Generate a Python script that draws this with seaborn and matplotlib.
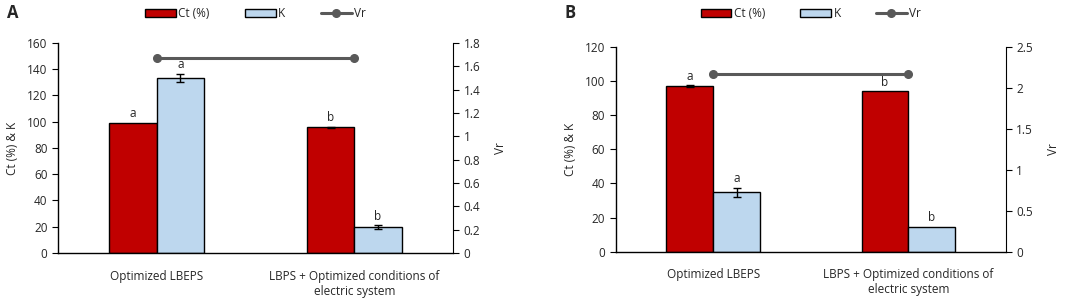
import numpy as np
import pandas as pd
import matplotlib
matplotlib.use('Agg')
import matplotlib.pyplot as plt
import seaborn as sb
from matplotlib.patches import Patch
from matplotlib.lines import Line2D
from matplotlib.ticker import FuncFormatter

groups = ['Optimized LBEPS', 'LBPS + Optimized conditions of\nelectric system']
series = ['Ct (%)', 'K']

# panel A
ct_a = [99.2, 95.6]
k_a = [133.5, 19.8]
ct_err_a = [0.0, 0.6]
k_err_a = [3.2, 1.2]
vr_a = [1.675, 1.675]
ct_let_a = ['a', 'b']
k_let_a = ['a', 'b']

# panel B
ct_b = [97.0, 94.0]
k_b = [34.8, 14.8]
ct_err_b = [0.6, 0.0]
k_err_b = [2.6, 0.0]
vr_b = [2.17, 2.17]
ct_let_b = ['a', 'b']
k_let_b = ['a', 'b']

RED = '#C00000'
BLUE = '#BDD7EE'
GREY = '#595959'


def fmt(v, pos):
    return '{:g}'.format(round(v, 2))


def panel(fig, rect, ct, k, ct_err, k_err, vr, ct_let, k_let, ymax, ystep, vmax, vstep, tag):
    ax = fig.add_axes(rect)
    df = pd.DataFrame({
        'group': groups * 2,
        'series': [series[0]] * 2 + [series[1]] * 2,
        'value': ct + k,
    })
    sb.barplot(data=df, x='group', y='value', hue='series', order=groups,
               hue_order=series, palette=[RED, BLUE], width=0.48, saturation=1,
               errorbar=None, edgecolor='black', linewidth=1.0, ax=ax, legend=False)
    errs = ct_err + k_err
    lets = ct_let + k_let
    vals = ct + k
    for p, e, l, v in zip(ax.patches, errs, lets, vals):
        cx = p.get_x() + p.get_width() / 2
        if e > 0:
            ax.errorbar(cx, v, yerr=e, fmt='none', ecolor='black', elinewidth=1, capsize=3)
        ax.text(cx, v + e + ymax * 0.012, l, ha='center', va='bottom', fontsize=8.5)
    ax.set_ylim(0, ymax)
    ax.set_yticks(np.arange(0, ymax + 0.1, ystep))
    ax.set_xlim(-0.5, 1.5)
    ax.set_xlabel('')
    ax.set_ylabel('Ct (%) & K', fontsize=8.5, labelpad=6)
    ax.tick_params(axis='x', length=0, labelsize=8.5, pad=12)
    ax.tick_params(axis='y', labelsize=8.5, length=4, color='black')
    ax.spines['top'].set_visible(False)
    ax.spines['right'].set_visible(False)
    for s in ['left', 'bottom']:
        ax.spines[s].set_color('black')
        ax.spines[s].set_linewidth(1.0)

    ax2 = ax.twinx()
    ax2.plot([0, 1], vr, color=GREY, lw=2.2, marker='o', ms=5.5)
    ax2.set_ylim(0, vmax)
    ax2.set_yticks(np.arange(0, vmax + 0.001, vstep))
    ax2.yaxis.set_major_formatter(FuncFormatter(fmt))
    ax2.set_ylabel('Vr', fontsize=8.5, labelpad=10)
    ax2.tick_params(axis='y', labelsize=8.5, length=4, color='black')
    ax2.spines['top'].set_visible(False)
    ax2.spines['left'].set_visible(False)
    ax2.spines['bottom'].set_visible(False)
    ax2.spines['right'].set_color('black')

    handles = [Patch(facecolor=RED, edgecolor='black', label='Ct (%)'),
               Patch(facecolor=BLUE, edgecolor='black', label='K'),
               Line2D([0], [0], color=GREY, lw=2.2, marker='o', ms=5.5, label='Vr')]
    cx = rect[0] + rect[2] / 2
    fig.legend(handles=handles, loc='center', bbox_to_anchor=(cx, 0.955), ncol=3,
               frameon=False, fontsize=8.5, handlelength=2.6, handleheight=0.7,
               handletextpad=0.2, columnspacing=3.0)
    fig.text(rect[0] - 0.047, 0.955, tag, fontsize=12, fontweight='bold', va='center')
    return ax


def main():
    sb.set_style('white')
    plt.rcParams['font.family'] = ['Open Sans', 'DejaVu Sans']
    fig = plt.figure(figsize=(10.84, 2.98), dpi=100)
    panel(fig, [0.0535, 0.151, 0.3645, 0.705], ct_a, k_a, ct_err_a, k_err_a, vr_a,
          ct_let_a, k_let_a, 160, 20, 1.8, 0.2, 'A')
    panel(fig, [0.568, 0.155, 0.360, 0.688], ct_b, k_b, ct_err_b, k_err_b, vr_b,
          ct_let_b, k_let_b, 120, 20, 2.5, 0.5, 'B')
    fig.savefig('out.png', dpi=100)


if __name__ == '__main__':
    main()
